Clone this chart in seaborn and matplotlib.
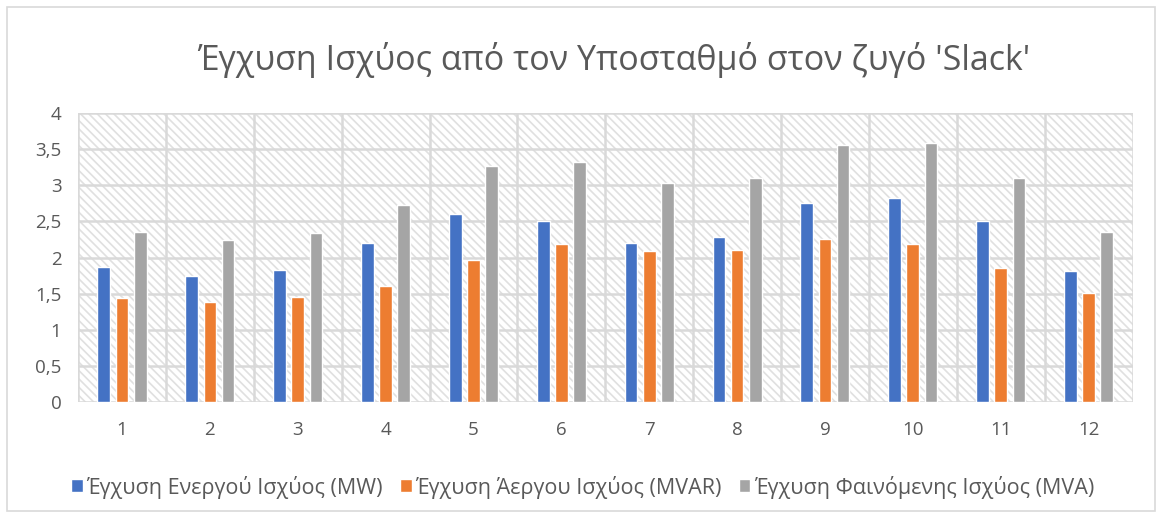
import matplotlib
matplotlib.use("Agg")
import matplotlib.pyplot as plt
import numpy as np
import pandas as pd
import seaborn as sns
from matplotlib.patches import Rectangle

hours = [str(i) for i in range(1, 13)]
p_mw = [1.87, 1.75, 1.83, 2.20, 2.60, 2.50, 2.20, 2.29, 2.75, 2.83, 2.50, 1.81]
q_mvar = [1.44, 1.39, 1.45, 1.61, 1.97, 2.19, 2.09, 2.10, 2.26, 2.19, 1.86, 1.51]
s_mva = [2.36, 2.24, 2.34, 2.72, 3.26, 3.32, 3.03, 3.10, 3.56, 3.58, 3.10, 2.35]
series_names = [
    "Έγχυση Ενεργού Ισχύος (MW)",
    "Έγχυση Άεργου Ισχύος (MVAR)",
    "Έγχυση Φαινόμενης Ισχύος (MVA)",
]
y_ticks = [0, 0.5, 1, 1.5, 2, 2.5, 3, 3.5, 4]

colors = ["#4472C4", "#ED7D31", "#A5A5A5"]
text_c = "#595959"
grid_c = "#D9D9D9"

df = pd.DataFrame({
    "hour": hours * 3,
    "value": p_mw + q_mvar + s_mva,
    "series": np.repeat(series_names, len(hours)),
})

sns.set_style("white")
plt.rcParams["font.family"] = ["Open Sans", "DejaVu Sans"]
plt.rcParams["hatch.linewidth"] = 1.2
plt.rcParams["hatch.color"] = "#E0E0E0"

fig = plt.figure(figsize=(11.58, 5.17), dpi=100)
ax = fig.add_axes([0.0674, 0.2224, 0.9106, 0.559])

# hatched plot area background
ax.add_patch(Rectangle((0, 0), 1, 1, transform=ax.transAxes, facecolor="white",
                       edgecolor="#E0E0E0", hatch="\\\\\\\\", lw=0, zorder=0))

sns.barplot(data=df, x="hour", y="value", hue="series", palette=colors,
            saturation=1, width=0.62, gap=0.3, ax=ax, zorder=3, legend=True)

ax.set_ylim(0, 4)
ax.set_xlim(-0.5, 11.5)
ax.set_yticks(y_ticks)
ax.set_yticklabels([f"{t:g}".replace(".", ",") for t in y_ticks])
ax.set_xlabel("")
ax.set_ylabel("")
for y in y_ticks:
    ax.axhline(y, color=grid_c, lw=1.8, zorder=1)
for x in np.arange(-0.5, 12, 1):
    ax.axvline(x, color=grid_c, lw=1.8, zorder=1)
for s in ax.spines.values():
    s.set_visible(False)
ax.tick_params(axis="both", length=0, labelsize=13.5, labelcolor=text_c)
ax.tick_params(axis="x", pad=14)
ax.tick_params(axis="y", pad=12)

fig.suptitle("Έγχυση Ισχύος από τον Υποσταθμό στον ζυγό 'Slack'",
             x=0.53, y=0.918, fontsize=24.5, color=text_c)

handles, labels = ax.get_legend_handles_labels()
ax.get_legend().remove()
fig.legend(handles, labels, loc="center", bbox_to_anchor=(0.503, 0.058), ncol=3,
           frameon=False, fontsize=15.5, labelcolor=text_c, handlelength=0.55,
           handleheight=0.55, handletextpad=0.15, columnspacing=0.8)

# chart outer border
fig.patches.append(Rectangle((0.006, 0.012), 0.991, 0.975, transform=fig.transFigure,
                             fill=False, edgecolor="#D9D9D9", lw=1.2))

fig.savefig("out.png", dpi=100)
